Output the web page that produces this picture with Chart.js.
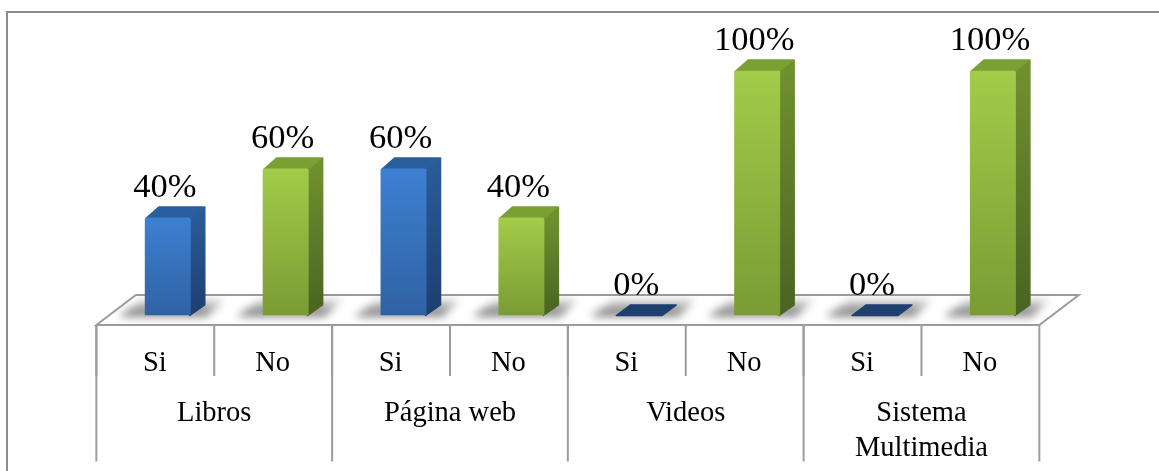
<!DOCTYPE html>
<html>
<head>
<meta charset="utf-8">
<style>
  html, body { margin: 0; padding: 0; background: #fff; }
  canvas { display: block; }
</style>
<script src="https://cdn.jsdelivr.net/npm/chart.js@4"></script>
</head>
<body>
<canvas id="chart" width="1159" height="471"></canvas>
<script>
const answers = ["Si", "No", "Si", "No", "Si", "No", "Si", "No"];
const groups = ["Libros", "Página web", "Videos", ["Sistema", "Multimedia"]];
const percentages = [40, 60, 60, 40, 0, 100, 0, 100];

const lineColor = "#9c9c9c";
const serif = "'Liberation Serif', 'Times New Roman', serif";

// floor shear, the front of the floor sits left of the bars
const shiftX = 12.5;
const depthX = 39.5;
const depthY = 30;
const sideX = 14;
const sideY = 10.5;

const paints = {
  Si: { front: ["#3d80d2", "#2f62a3"], side: ["#2a5b97", "#1d3e6f"], top: "#2a5f9f", flat: "#1f3f6e" },
  No: { front: ["#a2cc49", "#7b9b34"], side: ["#6f902f", "#4a6322"], top: "#78a033", flat: "#4a6322" }
};

function poly(ctx, pts) {
  ctx.beginPath();
  pts.forEach((p, i) => (i ? ctx.lineTo(p[0], p[1]) : ctx.moveTo(p[0], p[1])));
  ctx.closePath();
}

function stroke(ctx, x1, y1, x2, y2) {
  ctx.beginPath();
  ctx.moveTo(x1, y1);
  ctx.lineTo(x2, y2);
  ctx.stroke();
}

// fill with a thin same colour outline so the corners come out a bit round
function face(ctx, pts, paint) {
  ctx.fillStyle = paint;
  ctx.strokeStyle = paint;
  ctx.lineWidth = 1.5;
  ctx.lineJoin = "round";
  poly(ctx, pts);
  ctx.fill();
  ctx.stroke();
}

const box3d = {
  id: "box3d",
  beforeDatasetsDraw(chart) {
    const { ctx, scales } = chart;
    const x = scales.x;
    const base = scales.y.getPixelForValue(0);
    const frontY = base + 9.5;
    const backY = frontY - depthY;
    const left = x.left - shiftX;
    const right = x.right - shiftX;
    const cell = (right - left) / answers.length;

    ctx.save();
    // outer frame
    ctx.strokeStyle = "#8c8c8c";
    ctx.lineWidth = 2;
    stroke(ctx, 7, 471, 7, 12);
    stroke(ctx, 6, 12, 1159, 12);

    // floor
    ctx.strokeStyle = lineColor;
    ctx.lineWidth = 2;
    poly(ctx, [[left, frontY], [left + depthX, backY], [right + depthX, backY], [right, frontY]]);
    ctx.stroke();

    // table lines under the floor
    answers.forEach((_, i) => {
      stroke(ctx, left + i * cell, frontY, left + i * cell, frontY + 51);
    });
    for (let i = 0; i <= groups.length; i++) {
      stroke(ctx, left + i * 2 * cell, frontY, left + i * 2 * cell, 461.5);
    }

    // shadows and 3d faces
    const bars = chart.getDatasetMeta(0).data;
    bars.forEach((bar) => {
      const l = bar.x - bar.width / 2;
      const r = bar.x + bar.width / 2;
      const shade = ctx.createLinearGradient(0, base - 16, 0, base + 1);
      shade.addColorStop(0, "rgba(90,90,90,0.2)");
      shade.addColorStop(1, "rgba(70,70,70,0.8)");
      ctx.save();
      ctx.filter = "blur(4px)";
      ctx.fillStyle = shade;
      poly(ctx, [[l - 26, base + 1], [l - 2, base - 16], [r + 34, base - 16], [r + 16, base + 1]]);
      ctx.fill();
      ctx.restore();
    });

    bars.forEach((bar, i) => {
      const paint = paints[answers[i]];
      const l = bar.x - bar.width / 2;
      const r = bar.x + bar.width / 2;
      const top = bar.y;
      if (percentages[i] === 0) {
        face(ctx, [[l, base], [l + sideX, base - sideY], [r + sideX, base - sideY], [r, base]], paint.flat);
        return;
      }
      const sideGrad = ctx.createLinearGradient(0, top, 0, base);
      sideGrad.addColorStop(0, paint.side[0]);
      sideGrad.addColorStop(1, paint.side[1]);
      face(ctx, [[r - 1, top], [r + sideX, top - sideY], [r + sideX, base - sideY], [r - 1, base]], sideGrad);
      face(ctx, [[l + 1, top + 1], [l + sideX, top - sideY], [r + sideX - 1, top - sideY], [r - 1, top + 1]], paint.top);
    });
    ctx.restore();
  },
  afterDatasetsDraw(chart) {
    const { ctx } = chart;
    ctx.save();
    ctx.fillStyle = "#000";
    ctx.font = "34.5px " + serif;
    ctx.textAlign = "center";
    ctx.textBaseline = "alphabetic";
    chart.getDatasetMeta(0).data.forEach((bar, i) => {
      ctx.fillText(percentages[i] + "%", bar.x - 3, bar.y - 21);
    });
    ctx.restore();
  }
};

new Chart(document.getElementById("chart"), {
  type: "bar",
  data: {
    labels: answers,
    datasets: [
      {
        data: percentages,
        barPercentage: 0.39,
        categoryPercentage: 1,
        borderRadius: { topLeft: 2, topRight: 2 },
        backgroundColor: (c) => {
          const area = c.chart.chartArea;
          const paint = paints[answers[c.dataIndex]];
          if (!area || c.dataIndex === undefined) return paint.front[0];
          const y = c.chart.scales.y;
          const grad = c.chart.ctx.createLinearGradient(0, y.getPixelForValue(percentages[c.dataIndex]), 0, y.getPixelForValue(0));
          grad.addColorStop(0, paint.front[0]);
          grad.addColorStop(1, paint.front[1]);
          return percentages[c.dataIndex] === 0 ? "rgba(0,0,0,0)" : grad;
        }
      }
    ]
  },
  options: {
    responsive: false,
    animation: false,
    layout: { padding: { left: 108.85, right: 107.15, top: 70.5, bottom: 0 } },
    plugins: { legend: { display: false }, tooltip: { enabled: false } },
    scales: {
      y: { display: false, min: 0, max: 100 },
      x: {
        grid: { display: false },
        border: { display: false },
        afterFit: (scale) => { scale.height = 68; },
        ticks: {
          color: "#000",
          font: { family: serif, size: 28.5 },
          padding: 23,
          labelOffset: -shiftX - 0.5,
          autoSkip: false,
          maxRotation: 0
        }
      },
      x2: {
        type: "category",
        position: "bottom",
        labels: groups,
        offset: true,
        grid: { display: false },
        border: { display: false },
        afterFit: (scale) => { scale.height = 87.5; },
        ticks: {
          color: "#000",
          font: { family: serif, size: 28.5, lineHeight: 1.21 },
          padding: 5,
          labelOffset: -shiftX,
          autoSkip: false,
          maxRotation: 0
        }
      }
    }
  },
  plugins: [box3d]
});
</script>
</body>
</html>
